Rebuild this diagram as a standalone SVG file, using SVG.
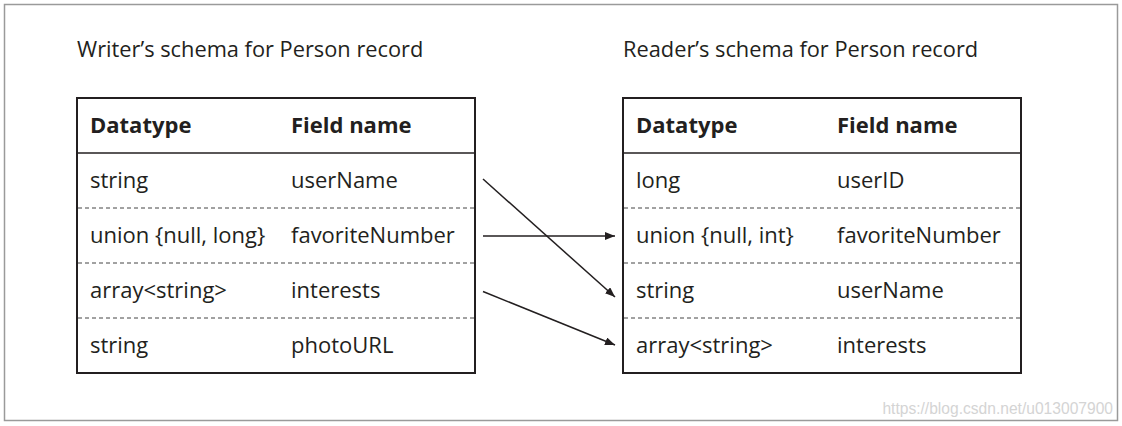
<svg xmlns="http://www.w3.org/2000/svg" width="1122" height="426" viewBox="0 0 1122 426">
<style>
.t{font-family:"Open Sans","Liberation Sans",sans-serif;fill:#231f20;font-size:22px}
.h{font-weight:bold;font-size:22px}
.title{font-size:21.8px}
.box{fill:none;stroke:#231f20;stroke-width:2}
.sep{stroke:#231f20;stroke-width:1.6}
.dash{stroke:#444;stroke-width:1;stroke-dasharray:4 3}
.con{stroke:#231f20;stroke-width:1.5;fill:none}
.wm{font-family:"Liberation Sans",Arial,sans-serif;font-size:15.6px;fill:#d4d4d4}
</style>
<defs>
<marker id="ah" viewBox="0 0 10 8" refX="10" refY="4" markerWidth="10" markerHeight="8" markerUnits="userSpaceOnUse" orient="auto">
<path d="M0,0 L10,4 L0,8 Z" fill="#231f20"/>
</marker>
</defs>
<rect x="0" y="0" width="1122" height="426" fill="#fff"/>
<rect x="4.5" y="4.5" width="1113" height="416" fill="none" stroke="#9a9a9a" stroke-width="1.5"/>
<g id="writer">
<text class="t title" x="77" y="57">Writer’s schema for Person record</text>
<rect class="box" x="77" y="98" width="398" height="275"/>
<line class="sep" x1="77" y1="153" x2="475" y2="153"/>
<line class="dash" x1="78" y1="208" x2="474" y2="208"/>
<line class="dash" x1="78" y1="263" x2="474" y2="263"/>
<line class="dash" x1="78" y1="318" x2="474" y2="318"/>
<text class="t h" x="90" y="133">Datatype</text>
<text class="t h" x="291" y="133">Field name</text>
<text class="t" x="90" y="188">string</text>
<text class="t" x="291" y="188">userName</text>
<text class="t" x="90" y="243">union {null, long}</text>
<text class="t" x="291" y="243">favoriteNumber</text>
<text class="t" x="90" y="298">array&lt;string&gt;</text>
<text class="t" x="291" y="298">interests</text>
<text class="t" x="90" y="353">string</text>
<text class="t" x="291" y="353">photoURL</text>
</g>
<g id="reader">
<text class="t title" x="623" y="57">Reader’s schema for Person record</text>
<rect class="box" x="623" y="98" width="398" height="275"/>
<line class="sep" x1="623" y1="153" x2="1021" y2="153"/>
<line class="dash" x1="624" y1="208" x2="1020" y2="208"/>
<line class="dash" x1="624" y1="263" x2="1020" y2="263"/>
<line class="dash" x1="624" y1="318" x2="1020" y2="318"/>
<text class="t h" x="636" y="133">Datatype</text>
<text class="t h" x="837" y="133">Field name</text>
<text class="t" x="636" y="188">long</text>
<text class="t" x="837" y="188">userID</text>
<text class="t" x="636" y="243">union {null, int}</text>
<text class="t" x="837" y="243">favoriteNumber</text>
<text class="t" x="636" y="298">string</text>
<text class="t" x="837" y="298">userName</text>
<text class="t" x="636" y="353">array&lt;string&gt;</text>
<text class="t" x="837" y="353">interests</text>
</g>
<g id="connectors">
<line class="con" x1="483" y1="179" x2="615" y2="297" marker-end="url(#ah)"/>
<line class="con" x1="483" y1="236" x2="615" y2="236" marker-end="url(#ah)"/>
<line class="con" x1="483" y1="291.5" x2="615" y2="345" marker-end="url(#ah)"/>
</g>
<text class="wm" x="1113" y="414" text-anchor="end">https://blog.csdn.net/u013007900</text>
</svg>
